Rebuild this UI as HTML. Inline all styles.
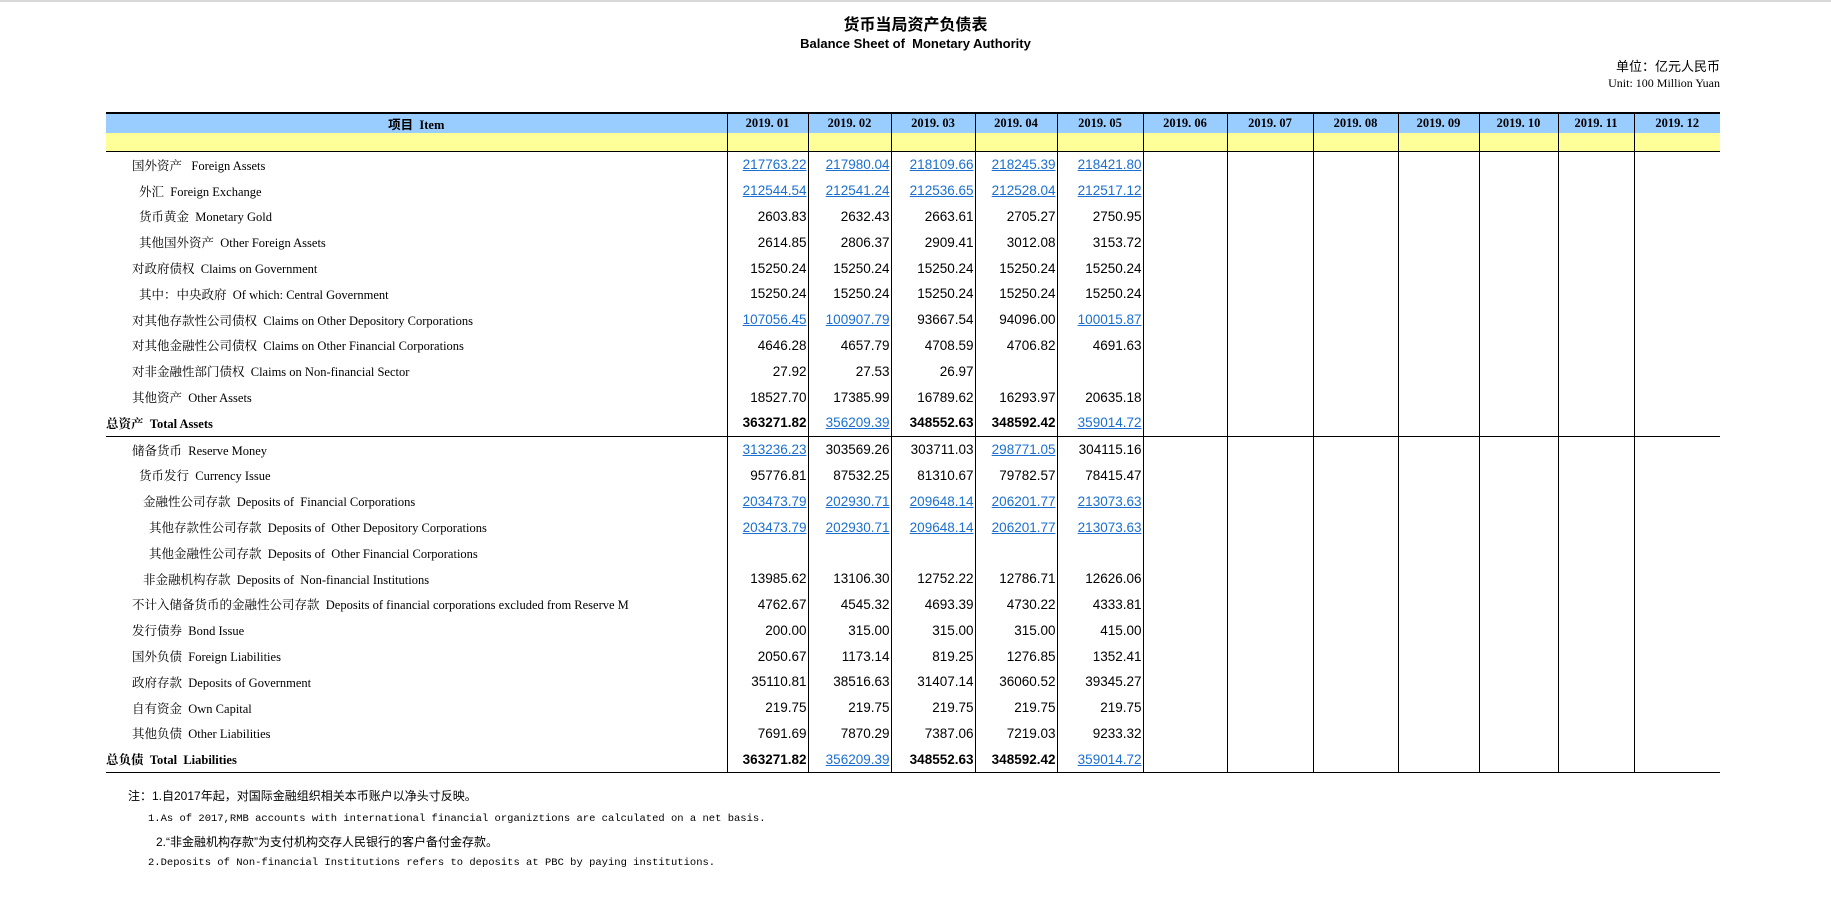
<!DOCTYPE html>
<html><head><meta charset="utf-8"><style>
body{margin:0;width:1831px;height:908px;background:#fff;position:relative;overflow:hidden;font-family:"Liberation Serif","Noto Serif CJK SC",serif;color:#000}
.topline{position:absolute;left:0;top:0;width:1831px;height:2px;background:#d8d8d8}
.t1{position:absolute;left:0;width:1831px;text-align:center;top:11px;font:bold 16px "Liberation Sans","Noto Sans CJK SC",sans-serif}
.t2{position:absolute;left:0;width:1831px;text-align:center;top:36px;font:bold 13px "Liberation Sans",sans-serif}
.u1{position:absolute;right:111px;top:56px;font-size:13px;font-family:"Liberation Sans","Noto Sans CJK SC",sans-serif}
.u2{position:absolute;right:111px;top:76px;font-size:12px}
table{position:absolute;left:106px;top:112px;border-collapse:collapse;table-layout:fixed;width:1614px}
td{padding:0;height:25.8px;font-size:12.5px;white-space:nowrap;overflow:hidden}
td.n{text-align:right;padding-right:1px;font:13.5px "Liberation Sans",sans-serif;border-left:1px solid #000}
tr.h td{height:17px;background:#99ccff;font:bold 12.5px "Liberation Serif","Noto Sans CJK SC",serif;text-align:center;border-top:2px solid #000;border-left:1px solid #000}
tr.h td:first-child{border-left:none}
tr.y td{height:18px;background:#ffff99;border-left:1px solid #000;border-bottom:1px solid #000}
tr.y td:first-child{border-left:none}
tr.b td{border-bottom:1px solid #000}
tr.b td.l{font-weight:bold}
tr.b td.n{font-weight:bold}
a{color:#1a6fd0;text-decoration:underline;font-weight:normal}
.notes{position:absolute;left:128px;font-size:12px;font-family:"Liberation Sans","Noto Sans CJK SC",sans-serif}
.m{font-family:"Liberation Mono",monospace;font-size:10.5px}
</style></head><body>
<div class="topline"></div>
<div class="t1">货币当局资产负债表</div>
<div class="t2">Balance Sheet of &nbsp;Monetary Authority</div>
<div class="u1">单位：亿元人民币</div>
<div class="u2">Unit: 100 Million Yuan</div>
<table>
<colgroup><col style="width:621px"><col style="width:81px"><col style="width:83px"><col style="width:84px"><col style="width:82px"><col style="width:86px"><col style="width:84px"><col style="width:86px"><col style="width:85px"><col style="width:81px"><col style="width:79px"><col style="width:76px"><col style="width:86px"></colgroup>
<tr class="h"><td>项目 &nbsp;Item</td><td>2019. 01</td><td>2019. 02</td><td>2019. 03</td><td>2019. 04</td><td>2019. 05</td><td>2019. 06</td><td>2019. 07</td><td>2019. 08</td><td>2019. 09</td><td>2019. 10</td><td>2019. 11</td><td>2019. 12</td></tr>
<tr class="y"><td></td><td></td><td></td><td></td><td></td><td></td><td></td><td></td><td></td><td></td><td></td><td></td><td></td></tr>
<tr><td class="l" style="padding-left:26px">国外资产 &nbsp; Foreign Assets</td><td class="n"><a>217763.22</a></td><td class="n"><a>217980.04</a></td><td class="n"><a>218109.66</a></td><td class="n"><a>218245.39</a></td><td class="n"><a>218421.80</a></td><td class="n"></td><td class="n"></td><td class="n"></td><td class="n"></td><td class="n"></td><td class="n"></td><td class="n"></td></tr>
<tr><td class="l" style="padding-left:33px">外汇 &nbsp;Foreign Exchange</td><td class="n"><a>212544.54</a></td><td class="n"><a>212541.24</a></td><td class="n"><a>212536.65</a></td><td class="n"><a>212528.04</a></td><td class="n"><a>212517.12</a></td><td class="n"></td><td class="n"></td><td class="n"></td><td class="n"></td><td class="n"></td><td class="n"></td><td class="n"></td></tr>
<tr><td class="l" style="padding-left:33px">货币黄金 &nbsp;Monetary Gold</td><td class="n">2603.83</td><td class="n">2632.43</td><td class="n">2663.61</td><td class="n">2705.27</td><td class="n">2750.95</td><td class="n"></td><td class="n"></td><td class="n"></td><td class="n"></td><td class="n"></td><td class="n"></td><td class="n"></td></tr>
<tr><td class="l" style="padding-left:33px">其他国外资产 &nbsp;Other Foreign Assets</td><td class="n">2614.85</td><td class="n">2806.37</td><td class="n">2909.41</td><td class="n">3012.08</td><td class="n">3153.72</td><td class="n"></td><td class="n"></td><td class="n"></td><td class="n"></td><td class="n"></td><td class="n"></td><td class="n"></td></tr>
<tr><td class="l" style="padding-left:26px">对政府债权 &nbsp;Claims on Government</td><td class="n">15250.24</td><td class="n">15250.24</td><td class="n">15250.24</td><td class="n">15250.24</td><td class="n">15250.24</td><td class="n"></td><td class="n"></td><td class="n"></td><td class="n"></td><td class="n"></td><td class="n"></td><td class="n"></td></tr>
<tr><td class="l" style="padding-left:33px">其中：中央政府 &nbsp;Of which: Central Government</td><td class="n">15250.24</td><td class="n">15250.24</td><td class="n">15250.24</td><td class="n">15250.24</td><td class="n">15250.24</td><td class="n"></td><td class="n"></td><td class="n"></td><td class="n"></td><td class="n"></td><td class="n"></td><td class="n"></td></tr>
<tr><td class="l" style="padding-left:26px">对其他存款性公司债权 &nbsp;Claims on Other Depository Corporations</td><td class="n"><a>107056.45</a></td><td class="n"><a>100907.79</a></td><td class="n">93667.54</td><td class="n">94096.00</td><td class="n"><a>100015.87</a></td><td class="n"></td><td class="n"></td><td class="n"></td><td class="n"></td><td class="n"></td><td class="n"></td><td class="n"></td></tr>
<tr><td class="l" style="padding-left:26px">对其他金融性公司债权 &nbsp;Claims on Other Financial Corporations</td><td class="n">4646.28</td><td class="n">4657.79</td><td class="n">4708.59</td><td class="n">4706.82</td><td class="n">4691.63</td><td class="n"></td><td class="n"></td><td class="n"></td><td class="n"></td><td class="n"></td><td class="n"></td><td class="n"></td></tr>
<tr><td class="l" style="padding-left:26px">对非金融性部门债权 &nbsp;Claims on Non-financial Sector</td><td class="n">27.92</td><td class="n">27.53</td><td class="n">26.97</td><td class="n"></td><td class="n"></td><td class="n"></td><td class="n"></td><td class="n"></td><td class="n"></td><td class="n"></td><td class="n"></td><td class="n"></td></tr>
<tr><td class="l" style="padding-left:26px">其他资产 &nbsp;Other Assets</td><td class="n">18527.70</td><td class="n">17385.99</td><td class="n">16789.62</td><td class="n">16293.97</td><td class="n">20635.18</td><td class="n"></td><td class="n"></td><td class="n"></td><td class="n"></td><td class="n"></td><td class="n"></td><td class="n"></td></tr>
<tr class="b"><td class="l">总资产 &nbsp;Total Assets</td><td class="n">363271.82</td><td class="n"><a>356209.39</a></td><td class="n">348552.63</td><td class="n">348592.42</td><td class="n"><a>359014.72</a></td><td class="n"></td><td class="n"></td><td class="n"></td><td class="n"></td><td class="n"></td><td class="n"></td><td class="n"></td></tr>
<tr><td class="l" style="padding-left:26px">储备货币 &nbsp;Reserve Money</td><td class="n"><a>313236.23</a></td><td class="n">303569.26</td><td class="n">303711.03</td><td class="n"><a>298771.05</a></td><td class="n">304115.16</td><td class="n"></td><td class="n"></td><td class="n"></td><td class="n"></td><td class="n"></td><td class="n"></td><td class="n"></td></tr>
<tr><td class="l" style="padding-left:33px">货币发行 &nbsp;Currency Issue</td><td class="n">95776.81</td><td class="n">87532.25</td><td class="n">81310.67</td><td class="n">79782.57</td><td class="n">78415.47</td><td class="n"></td><td class="n"></td><td class="n"></td><td class="n"></td><td class="n"></td><td class="n"></td><td class="n"></td></tr>
<tr><td class="l" style="padding-left:37px">金融性公司存款 &nbsp;Deposits of &nbsp;Financial Corporations</td><td class="n"><a>203473.79</a></td><td class="n"><a>202930.71</a></td><td class="n"><a>209648.14</a></td><td class="n"><a>206201.77</a></td><td class="n"><a>213073.63</a></td><td class="n"></td><td class="n"></td><td class="n"></td><td class="n"></td><td class="n"></td><td class="n"></td><td class="n"></td></tr>
<tr><td class="l" style="padding-left:43px">其他存款性公司存款 &nbsp;Deposits of &nbsp;Other Depository Corporations</td><td class="n"><a>203473.79</a></td><td class="n"><a>202930.71</a></td><td class="n"><a>209648.14</a></td><td class="n"><a>206201.77</a></td><td class="n"><a>213073.63</a></td><td class="n"></td><td class="n"></td><td class="n"></td><td class="n"></td><td class="n"></td><td class="n"></td><td class="n"></td></tr>
<tr><td class="l" style="padding-left:43px">其他金融性公司存款 &nbsp;Deposits of &nbsp;Other Financial Corporations</td><td class="n"></td><td class="n"></td><td class="n"></td><td class="n"></td><td class="n"></td><td class="n"></td><td class="n"></td><td class="n"></td><td class="n"></td><td class="n"></td><td class="n"></td><td class="n"></td></tr>
<tr><td class="l" style="padding-left:37px">非金融机构存款 &nbsp;Deposits of &nbsp;Non-financial Institutions</td><td class="n">13985.62</td><td class="n">13106.30</td><td class="n">12752.22</td><td class="n">12786.71</td><td class="n">12626.06</td><td class="n"></td><td class="n"></td><td class="n"></td><td class="n"></td><td class="n"></td><td class="n"></td><td class="n"></td></tr>
<tr><td class="l" style="padding-left:26px">不计入储备货币的金融性公司存款 &nbsp;Deposits of financial corporations excluded from Reserve M</td><td class="n">4762.67</td><td class="n">4545.32</td><td class="n">4693.39</td><td class="n">4730.22</td><td class="n">4333.81</td><td class="n"></td><td class="n"></td><td class="n"></td><td class="n"></td><td class="n"></td><td class="n"></td><td class="n"></td></tr>
<tr><td class="l" style="padding-left:26px">发行债券 &nbsp;Bond Issue</td><td class="n">200.00</td><td class="n">315.00</td><td class="n">315.00</td><td class="n">315.00</td><td class="n">415.00</td><td class="n"></td><td class="n"></td><td class="n"></td><td class="n"></td><td class="n"></td><td class="n"></td><td class="n"></td></tr>
<tr><td class="l" style="padding-left:26px">国外负债 &nbsp;Foreign Liabilities</td><td class="n">2050.67</td><td class="n">1173.14</td><td class="n">819.25</td><td class="n">1276.85</td><td class="n">1352.41</td><td class="n"></td><td class="n"></td><td class="n"></td><td class="n"></td><td class="n"></td><td class="n"></td><td class="n"></td></tr>
<tr><td class="l" style="padding-left:26px">政府存款 &nbsp;Deposits of Government</td><td class="n">35110.81</td><td class="n">38516.63</td><td class="n">31407.14</td><td class="n">36060.52</td><td class="n">39345.27</td><td class="n"></td><td class="n"></td><td class="n"></td><td class="n"></td><td class="n"></td><td class="n"></td><td class="n"></td></tr>
<tr><td class="l" style="padding-left:26px">自有资金 &nbsp;Own Capital</td><td class="n">219.75</td><td class="n">219.75</td><td class="n">219.75</td><td class="n">219.75</td><td class="n">219.75</td><td class="n"></td><td class="n"></td><td class="n"></td><td class="n"></td><td class="n"></td><td class="n"></td><td class="n"></td></tr>
<tr><td class="l" style="padding-left:26px">其他负债 &nbsp;Other Liabilities</td><td class="n">7691.69</td><td class="n">7870.29</td><td class="n">7387.06</td><td class="n">7219.03</td><td class="n">9233.32</td><td class="n"></td><td class="n"></td><td class="n"></td><td class="n"></td><td class="n"></td><td class="n"></td><td class="n"></td></tr>
<tr class="b"><td class="l">总负债 &nbsp;Total &nbsp;Liabilities</td><td class="n">363271.82</td><td class="n"><a>356209.39</a></td><td class="n">348552.63</td><td class="n">348592.42</td><td class="n"><a>359014.72</a></td><td class="n"></td><td class="n"></td><td class="n"></td><td class="n"></td><td class="n"></td><td class="n"></td><td class="n"></td></tr>
</table>
<div class="notes" style="top:787px;left:128px">注：1.自2017年起，对国际金融组织相关本币账户以净头寸反映。</div>
<div class="notes m" style="top:813px;left:148px">1.As of 2017,RMB accounts with international financial organiztions are calculated on a net basis.</div>
<div class="notes" style="top:833px;left:156px">2.“非金融机构存款”为支付机构交存人民银行的客户备付金存款。</div>
<div class="notes m" style="top:857px;left:148px">2.Deposits of Non-financial Institutions refers to deposits at PBC by paying institutions.</div>
</body></html>
